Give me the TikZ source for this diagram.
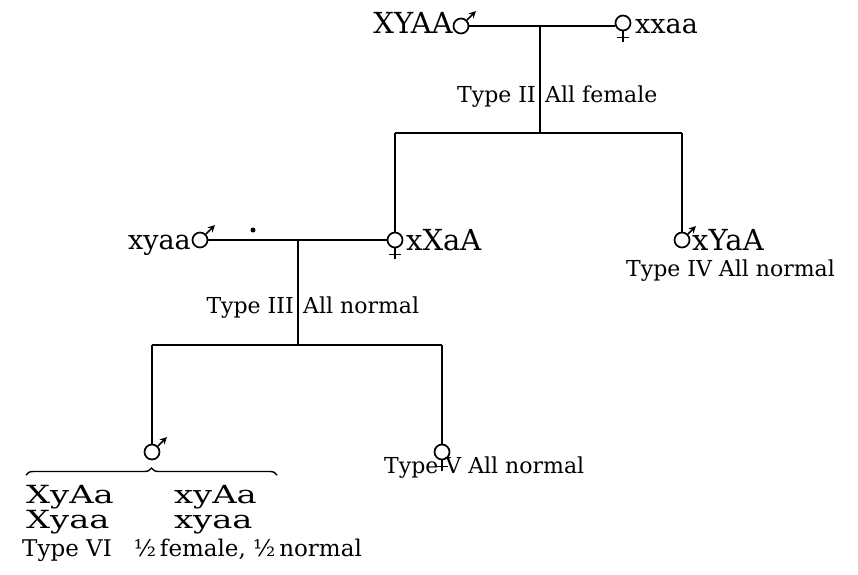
\documentclass[tikz,border=0pt]{standalone}
\usepackage{fontspec}
\setmainfont{DejaVu Serif}
\newfontfamily\widefont[FakeStretch=1.35]{DejaVu Serif}
\usetikzlibrary{arrows.meta,decorations.pathreplacing}
\begin{document}
\begin{tikzpicture}[x=1pt,y=-1pt,
  gt/.style={font=\fontsize{29}{29}\selectfont,inner sep=0pt},
  gs/.style={font=\fontsize{27}{27}\selectfont,inner sep=0pt},
  gb/.style={font=\widefont\fontsize{25}{25}\selectfont,inner sep=0pt},
  lab/.style={font=\fontsize{22}{22}\selectfont,inner sep=0pt},
  link/.style={line width=1.7pt},
  sexring/.style={circle,draw,line width=1.7pt,minimum size=15pt,inner sep=0pt},
  marrow/.style={line width=1.7pt,-{Stealth[length=7pt,width=7pt]}},
  fcross/.style={line width=1.7pt}]
\useasboundingbox (0,0) rectangle (858,574);

% generation I
\node[gt,anchor=base east] (p1) at (453,33) {XYAA};
\node[sexring] (m1) at (461,26) {};
\draw[marrow] (m1.45) -- ++(9,-9);
\node[sexring] (f1) at (623,23) {};
\draw[fcross] (f1.south) -- ++(0,11) (f1.south)++(-6,6) -- ++(12,0);
\node[gs,anchor=base west] (p2) at (635,33) {xxaa};
\coordinate (j1) at (540,26);
\coordinate (j2) at (540,133);
\draw[link] (m1.east) -- (f1.west |- m1.east);
\draw[link] (j1) -- (j2);
\node[lab,anchor=base east] (t2) at (536,102) {Type II};
\node[lab,anchor=base west] (a2) at (545,102) {All female};

% generation II
\node[sexring] (f2) at (395,240) {};
\draw[fcross] (f2.south) -- ++(0,11) (f2.south)++(-6,6) -- ++(12,0);
\node[gt,anchor=base west] (g2) at (406,250) {xXaA};
\node[sexring] (m3) at (682,240) {};
\draw[marrow] (m3.45) -- ++(8,-8);
\node[gt,anchor=base west] (g3) at (692,250) {xYaA};
\node[lab,anchor=base west] (t4) at (626,276) {Type IV All normal};
\coordinate (l2) at (395,133);
\coordinate (r2) at (682,133);
\draw[link] (l2) -- (r2);
\draw[link] (l2) -- (f2.north);
\draw[link] (r2) -- (m3.north);

\node[gs,anchor=base east] (g1) at (191,249) {xyaa};
\node[sexring] (m2) at (200,240) {};
\draw[marrow] (m2.45) -- ++(9,-9);
\node[circle,fill,inner sep=0pt,minimum size=5pt] (dot) at (253,230) {};
\draw[link] (m2.east) -- (f2.west);
\coordinate (j3) at (298,240);
\coordinate (j4) at (298,345);
\draw[link] (j3) -- (j4);
\node[lab,anchor=base east] (t3) at (294,313) {Type III};
\node[lab,anchor=base west] (a3) at (303,313) {All normal};

% generation III
\coordinate (l3) at (152,345);
\coordinate (r3) at (442,345);
\draw[link] (l3) -- (r3);
\node[sexring] (m4) at (152,452) {};
\draw[marrow] (m4.45) -- ++(9,-9);
\draw[link] (l3) -- (m4.north);
\node[sexring] (f4) at (442,452) {};
\draw[fcross] (f4.south) -- ++(0,11) (f4.south)++(-6,6) -- ++(12,0);
\draw[link] (r3) -- (f4.north);
\node[lab,anchor=base west] (t5) at (384,473) {Type V All normal};

\coordinate (b1) at (26,475);
\coordinate (b2) at (277,475);
\draw[line width=1.4pt,decorate,decoration={brace,amplitude=7pt}] (b1) -- (b2);
\node[gb,anchor=base west] (s1) at (26,503) {XyAa};
\node[gb,anchor=base west] (s2) at (174,503) {xyAa};
\node[gb,anchor=base west] (s3) at (26,528) {Xyaa};
\node[gb,anchor=base west] (s4) at (174,528) {xyaa};
\node[lab,anchor=base west,font=\fontsize{23}{23}\selectfont] (t6) at (22,556)
  {Type VI\hspace{22pt}½\,female, ½\,normal};
\end{tikzpicture}
\end{document}
